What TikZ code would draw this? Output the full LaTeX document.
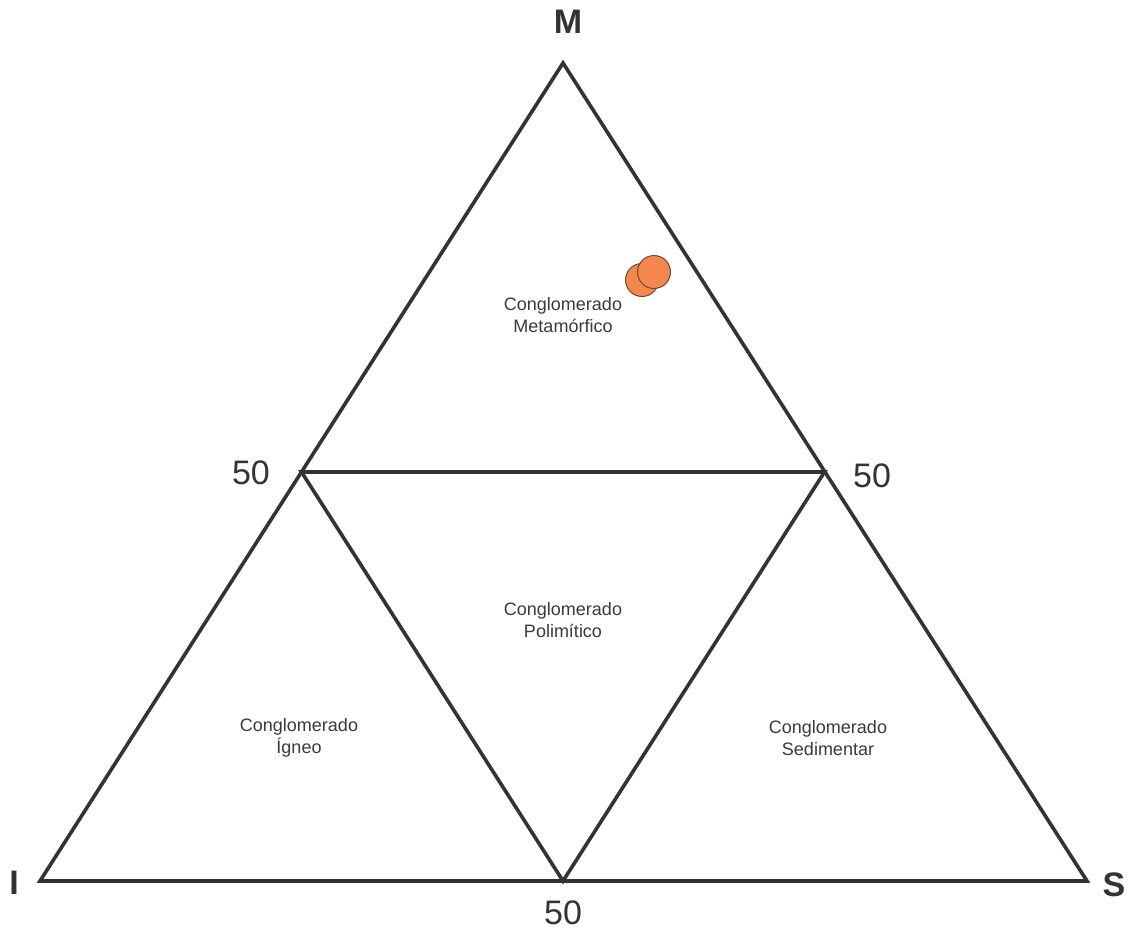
\documentclass[tikz,border=0pt]{standalone}
\usepackage{fontspec}
\setmainfont{Liberation Sans}
\definecolor{ln}{HTML}{333333}
\definecolor{tx}{HTML}{3A3A3A}
\definecolor{dot}{HTML}{F4874B}
\definecolor{dotb}{HTML}{6B4A3A}
\begin{document}
\begin{tikzpicture}[x=1pt,y=-1pt,
  edge/.style={draw=ln,line width=3.6pt,line join=miter},
  field/.style={text=tx,font=\fontsize{18}{22.5}\selectfont,align=center,inner sep=0pt},
  corner/.style={text=ln,font=\fontsize{34}{40}\selectfont\bfseries,inner sep=0pt},
  tick/.style={text=ln,font=\fontsize{34}{40}\selectfont,inner sep=0pt},
  sample/.style={circle,draw=dotb,line width=1pt,fill=dot,minimum size=33pt,inner sep=0pt}]
\useasboundingbox (0,0) rectangle (1133,931);
\coordinate (M) at (563,63);
\coordinate (I) at (40,881);
\coordinate (S) at (1087,881);
\coordinate (L) at (301.5,472);
\coordinate (R) at (824.5,472);
\coordinate (B) at (563,881);
\draw[edge] (M) -- (I) -- (S) -- cycle;
\draw[edge] (L) -- (R) -- (B) -- cycle;
\node[corner] (lm) at (568,22) {M};
\node[corner] (li) at (14,883) {I};
\node[corner] (ls) at (1114,885) {S};
\node[tick] (t1) at (251,473) {50};
\node[tick] (t2) at (872,476) {50};
\node[tick] (t3) at (563,913) {50};
\node[field] (f1) at (563,315) {Conglomerado\\Metamórfico};
\node[field] (f2) at (563,620) {Conglomerado\\Polimítico};
\node[field] (f3) at (299,738) {Conglomerado\\Ígneo};
\node[field] (f4) at (828,738) {Conglomerado\\Sedimentar};
\node[sample] (s1) at (642,280) {};
\node[sample] (s2) at (654,272) {};
\end{tikzpicture}
\end{document}
